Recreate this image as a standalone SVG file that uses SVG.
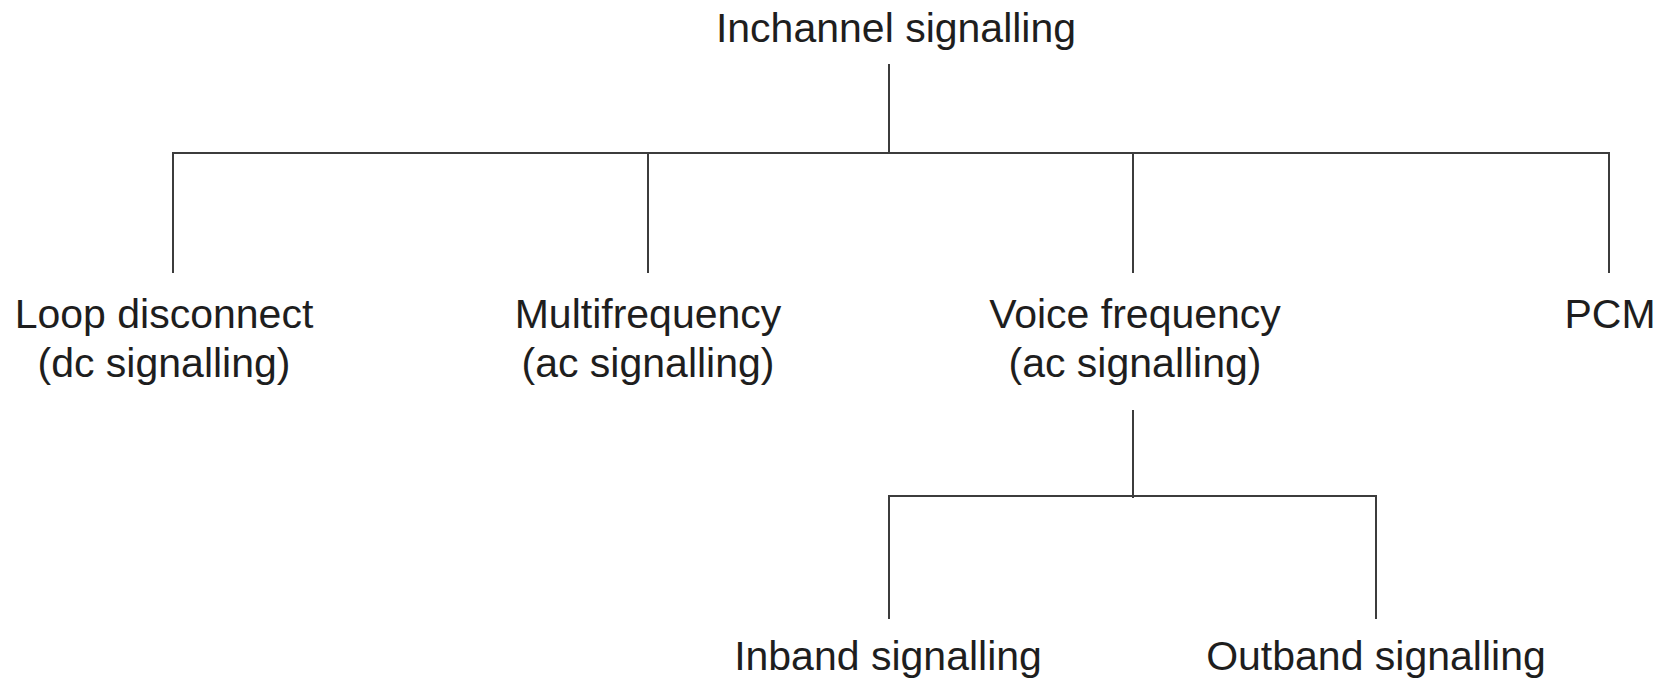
<svg xmlns="http://www.w3.org/2000/svg" width="1668" height="680" viewBox="0 0 1668 680">
<style>
.t{font-family:"Liberation Sans",Arial,sans-serif;font-size:41px;fill:#1e1e1e;text-anchor:middle}
.c{stroke:#3c3c3c;stroke-width:2;fill:none}
</style>
<rect width="1668" height="680" fill="#ffffff"/>
<g id="connectors">
<path class="c" d="M889 64V153M173 273V153H1609V273M648 153V273M1133 153V273"/>
<path class="c" d="M1133 410V498M889 619V496H1376V619"/>
</g>
<g id="n-root"><text class="t" x="896" y="42">Inchannel signalling</text></g>
<g id="n-loop"><text class="t" x="164" y="328">Loop disconnect</text><text class="t" x="164" y="377">(dc signalling)</text></g>
<g id="n-multi"><text class="t" x="648" y="328">Multifrequency</text><text class="t" x="648" y="377">(ac signalling)</text></g>
<g id="n-voice"><text class="t" x="1135" y="328">Voice frequency</text><text class="t" x="1135" y="377">(ac signalling)</text></g>
<g id="n-pcm"><text class="t" x="1610" y="328">PCM</text></g>
<g id="n-inband"><text class="t" x="888" y="670">Inband signalling</text></g>
<g id="n-outband"><text class="t" x="1376" y="670">Outband signalling</text></g>
</svg>
